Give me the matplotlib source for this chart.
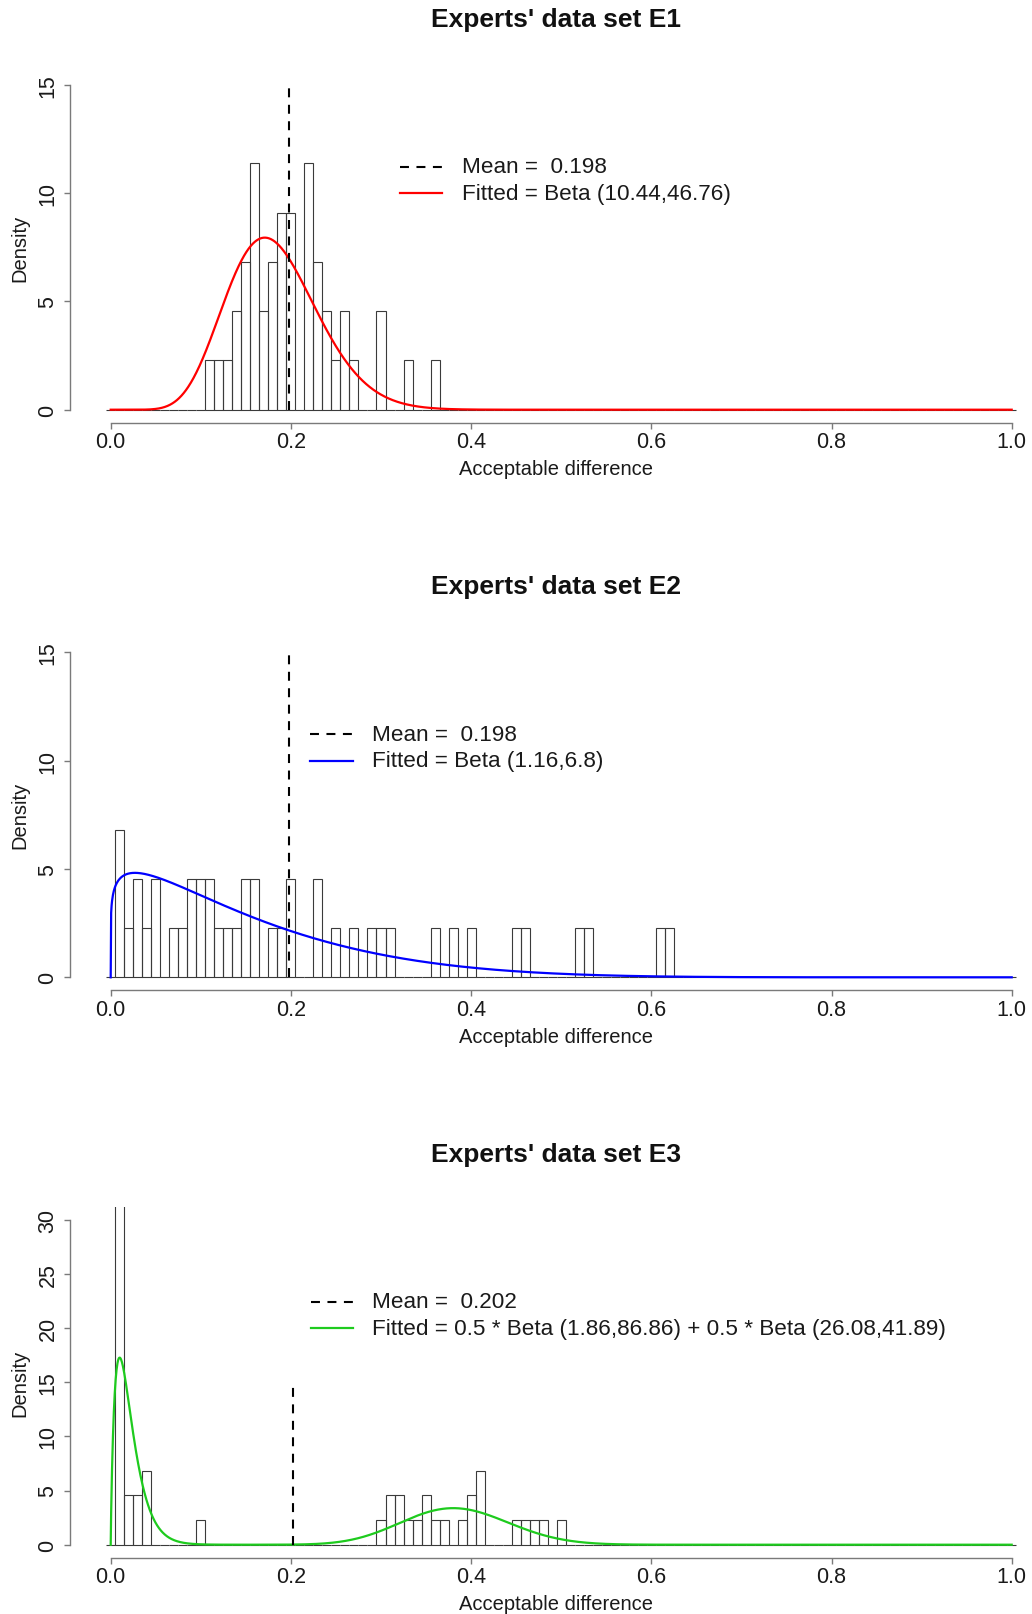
import math
import numpy as np
import matplotlib
matplotlib.use("Agg")
import matplotlib.pyplot as plt

plt.rcParams['font.family'] = ['Liberation Sans', 'DejaVu Sans']

# ---------------- data ----------------
bin_width = 0.01
n_obs = 44

titles = ["Experts' data set E1", "Experts' data set E2", "Experts' data set E3"]
xlabel = "Acceptable difference"
ylabel = "Density"

e1_centers = [0.11, 0.12, 0.13, 0.14, 0.15, 0.16, 0.17, 0.18, 0.19, 0.20,
              0.22, 0.23, 0.24, 0.25, 0.26, 0.27, 0.30, 0.33, 0.36]
e1_counts = [1, 1, 1, 2, 3, 5, 2, 3, 4, 4, 5, 3, 2, 1, 2, 1, 2, 1, 1]

e2_centers = [0.01, 0.02, 0.03, 0.04, 0.05, 0.07, 0.08, 0.09, 0.10, 0.11,
              0.12, 0.13, 0.14, 0.15, 0.16, 0.18, 0.19, 0.20, 0.23, 0.25,
              0.27, 0.29, 0.30, 0.31, 0.36, 0.38, 0.40, 0.45, 0.46, 0.52,
              0.53, 0.61, 0.62]
e2_counts = [3, 1, 2, 1, 2, 1, 1, 2, 2, 2, 1, 1, 1, 2, 2, 1, 1, 2, 2, 1,
             1, 1, 1, 1, 1, 1, 1, 1, 1, 1, 1, 1, 1]

e3_centers = [0.01, 0.02, 0.03, 0.04, 0.10, 0.30, 0.31, 0.32, 0.33, 0.34,
              0.35, 0.36, 0.37, 0.39, 0.40, 0.41, 0.45, 0.46, 0.47, 0.48, 0.50]
e3_counts = [14, 2, 2, 3, 1, 1, 2, 2, 1, 1, 2, 1, 1, 1, 2, 3, 1, 1, 1, 1, 1]

means = [0.198, 0.198, 0.202]
mean_labels = ["Mean =  0.198", "Mean =  0.198", "Mean =  0.202"]

e1_fit = (10.44, 46.76)
e2_fit = (1.16, 6.8)
e3_fit_w = 0.5
e3_fit_a = (1.86, 86.86)
e3_fit_b = (26.08, 41.89)
fit_labels = ["Fitted = Beta (10.44,46.76)",
              "Fitted = Beta (1.16,6.8)",
              "Fitted = 0.5 * Beta (1.86,86.86) + 0.5 * Beta (26.08,41.89)"]
fit_colors = ["#FF0000", "#0000FF", "#1ECB1E"]

y_max = [15, 15, 30]
y_step = [5, 5, 5]


def beta_pdf(x, a, b):
    x = np.asarray(x, dtype=float)
    out = np.zeros_like(x)
    m = (x > 0) & (x < 1)
    lnB = math.lgamma(a) + math.lgamma(b) - math.lgamma(a + b)
    out[m] = np.exp((a - 1) * np.log(x[m]) + (b - 1) * np.log(1 - x[m]) - lnB)
    return out


xs = np.linspace(0, 1, 2001)
curves = [beta_pdf(xs, *e1_fit),
          beta_pdf(xs, *e2_fit),
          e3_fit_w * beta_pdf(xs, *e3_fit_a) + (1 - e3_fit_w) * beta_pdf(xs, *e3_fit_b)]
hist_data = [(e1_centers, e1_counts), (e2_centers, e2_counts), (e3_centers, e3_counts)]

# ---------------- layout (pixels) ----------------
W, H = 1032, 1615
fig = plt.figure(figsize=(W / 100, H / 100), dpi=100)

x0_px = 110.7          # pixel of x = 0
px_per_x = 901.0
ax_left_px, ax_right_px = 70.0, 1032.0
region_tops = [72.7, 640.3, 1207.7]
region_h = 351.0
legend_x = [(400, 441.7, 461.7), (310, 352.7, 371.7), (310.5, 353, 372)]

gray = "#7a7a7a"
dash = (0, (4.3, 3.6))
all_centers = np.round(np.arange(0, 101) * bin_width, 2)


def fx(px):
    return px / W


def fy(py):
    return 1 - py / H


for i in range(3):
    top = region_tops[i]
    bot = top + region_h
    ax = fig.add_axes([fx(ax_left_px), fy(bot), fx(ax_right_px - ax_left_px), region_h / H])
    xl = (ax_left_px - x0_px) / px_per_x
    xr = (ax_right_px - x0_px) / px_per_x
    ext = 0.04 * y_max[i]
    ax.set_xlim(xl, xr)
    ax.set_ylim(-ext, y_max[i] + ext)

    centers, counts = hist_data[i]
    full = np.zeros(len(all_centers))
    for c, k in zip(centers, counts):
        full[int(round(c / bin_width))] = k
    dens = full / (n_obs * bin_width)
    ax.bar(all_centers, dens, width=bin_width, facecolor="none",
           edgecolor="#3a3a3a", linewidth=0.8, zorder=2)

    ax.plot(xs, curves[i], color=fit_colors[i], lw=1.6, zorder=3)
    ax.plot([means[i], means[i]], [0, 15], color="black", lw=1.5,
            linestyle=dash, zorder=4)

    for s in ["top", "right"]:
        ax.spines[s].set_visible(False)
    ax.spines["left"].set_bounds(0, y_max[i])
    ax.spines["bottom"].set_bounds(0, 1)
    for s in ["left", "bottom"]:
        ax.spines[s].set_color(gray)
        ax.spines[s].set_linewidth(1.0)
    ax.set_xticks([0, 0.2, 0.4, 0.6, 0.8, 1.0])
    ax.set_xticklabels(["0.0", "0.2", "0.4", "0.6", "0.8", "1.0"])
    yt = list(range(0, y_max[i] + 1, y_step[i]))
    ax.set_yticks(yt)
    ax.set_yticklabels([str(v) for v in yt], rotation=90, va="center")
    ax.tick_params(axis="both", colors=gray, labelcolor="#1a1a1a",
                   length=4.3, width=1.0, labelsize=15.5)
    ax.tick_params(axis="x", pad=2)
    ax.tick_params(axis="y", pad=4)
    ax.patch.set_alpha(0)

    # title / labels
    fig.text(fx(556), fy(top - 53), titles[i], ha="center", va="center",
             fontsize=19, fontweight="bold", color="#111111")
    fig.text(fx(556), fy(bot + 46), xlabel, ha="center", va="center",
             fontsize=14.5, color="#1a1a1a")
    fig.text(fx(20), fy(top + region_h / 2), ylabel, ha="center", va="center",
             rotation=90, fontsize=14.5, color="#1a1a1a")

    # legend
    lx0, lx1, tx = legend_x[i]
    r1 = top + 95
    r2 = top + 121.5
    fig.add_artist(plt.Line2D([fx(lx0), fx(lx1)], [fy(r1), fy(r1)], color="black",
                              lw=1.5, linestyle=dash))
    fig.add_artist(plt.Line2D([fx(lx0), fx(lx1)], [fy(r2), fy(r2)], color=fit_colors[i],
                              lw=1.6))
    fig.text(fx(tx), fy(r1), mean_labels[i], ha="left", va="center",
             fontsize=16.2, color="#1a1a1a")
    fig.text(fx(tx), fy(r2), fit_labels[i], ha="left", va="center",
             fontsize=16.2, color="#1a1a1a")

fig.savefig("out.png", dpi=100)
